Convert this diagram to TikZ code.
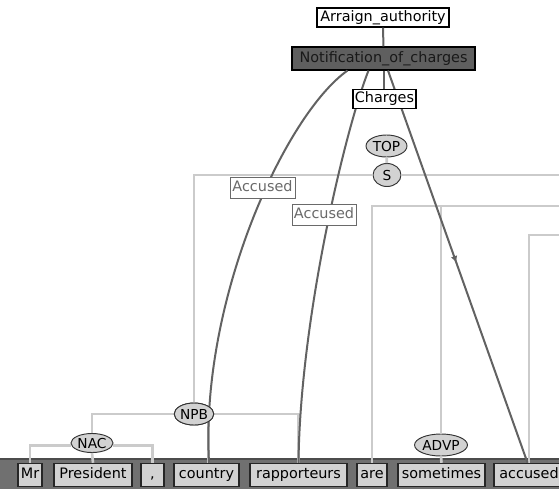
\documentclass[tikz,border=0pt]{standalone}
\usepackage{fontspec}
\setmainfont{DejaVu Sans}
\usetikzlibrary{calc,shapes.geometric,decorations.markings,arrows.meta}
\definecolor{edgedark}{HTML}{626262}
\definecolor{treegrey}{HTML}{CBCBCB}
\definecolor{barfill}{HTML}{707070}
\definecolor{tokfill}{HTML}{D2D2D2}
\definecolor{framefill}{HTML}{5F5F5F}
\definecolor{rolegrey}{HTML}{6A6A6A}
\begin{document}
\begin{tikzpicture}[x=0.75pt,y=-0.75pt,
  font=\fontsize{10.8pt}{12pt}\selectfont,
  every node/.style={text height=8pt,text depth=2.2pt},
  framebox/.style={draw=black,line width=0.8pt,fill=white,inner sep=0pt,minimum height=19*0.75pt},
  darkframe/.style={draw=black,line width=0.8pt,fill=framefill,text=black!90,inner sep=0pt,minimum height=23*0.75pt},
  rolebox/.style={draw=rolegrey,line width=0.7pt,fill=white,text=rolegrey,inner sep=0pt,minimum height=21*0.75pt},
  phrase/.style={ellipse,draw=black!80,line width=0.7pt,fill=tokfill,inner sep=0pt,
    text height=7.5pt,text depth=0pt,font=\fontsize{10.3pt}{11pt}\selectfont},
  token/.style={draw=black!85,line width=1.1pt,fill=tokfill,inner sep=0pt,minimum height=23*0.75pt},
  dk/.style={draw=edgedark,line width=1.5pt},
  gr/.style={draw=treegrey,line width=2pt},
  midarrow/.style={postaction={decorate},decoration={markings,
    mark=at position 0.49 with {\arrow{Latex[length=5pt,width=5pt]}}}}]
\useasboundingbox (0,0) rectangle (559,489);
\clip (0,0) rectangle (559,489);

% word bar
\fill[barfill] (0,459) rectangle (559,489);
\draw[black!70,line width=0.8pt] (0,459) -- (559,459);

% frame nodes
\node[framebox,minimum width=132*0.75pt] (arraign) at (383,17.5) {Arraign\_authority};
\node[darkframe,minimum width=183*0.75pt] (notif) at (383.5,58.5) {Notification\_of\_charges};

% syntax nodes
\node[phrase,minimum width=41*0.75pt,minimum height=22*0.75pt] (top) at (386.5,146) {TOP};
\node[phrase,minimum width=28*0.75pt,minimum height=23*0.75pt] (S) at (387,175) {S};
\node[phrase,minimum width=38*0.75pt,minimum height=22*0.75pt] (npb) at (194,414) {NPB};
\node[phrase,minimum width=42*0.75pt,minimum height=19*0.75pt] (nac) at (92,443) {NAC};
\node[phrase,minimum width=50*0.75pt,minimum height=22*0.75pt] (advp) at (441,445) {ADVP};

% tokens
\node[token,minimum width=24*0.75pt] (mr) at (30,475) {Mr};
\node[token,minimum width=78*0.75pt] (president) at (93,475) {President};
\node[token,minimum width=23*0.75pt] (comma) at (152.5,475) {,};
\node[token,minimum width=65*0.75pt] (country) at (206.5,475) {country};
\node[token,minimum width=97*0.75pt] (rapp) at (298.5,475) {rapporteurs};
\node[token,minimum width=30*0.75pt] (are) at (372,475) {are};
\node[token,minimum width=87*0.75pt] (sometimes) at (441.5,475) {sometimes};
\node[token,minimum width=70*0.75pt] (accused) at (529,475) {accused};

% open ends of tree lines to the right
\coordinate (sR) at (562,175);
\coordinate (vpR) at (562,206);
\coordinate (vpbR) at (562,235);

% tree lines
\draw[gr] (top) -- (S);
\draw[gr] (S.east) -- (sR);
\draw[gr] (S.west) -| (npb.north);
\draw[gr] (vpR) -| (are.north);
\draw[gr] (advp.north |- vpR) -- (advp.north);
\draw[gr] (vpbR) -| (accused.north);
\draw[gr] (nac.north) |- (npb.west);
\draw[gr] (npb.east) -| (rapp.north);
\draw[gr] ([xshift=1.5pt]country.north) -- ([xshift=1.5pt]country.north |- npb);
\draw[gr] (mr.north) |- ([yshift=-2pt]nac.west);
\draw[gr] ([yshift=-2pt]nac.east) -| (comma.north);
\draw[gr] (nac.south) -- (president.north);
\draw[gr] (advp.south) -- (sometimes.north);

% frame element connectors
\draw[dk] (arraign) -- (notif);
\draw[dk] ($(notif.south)+(-36,0)$) .. controls (285,115) and (200,300) .. ($(country.north)+(2.5,0)$);
\draw[dk] ($(notif.south)+(-15,0)$) .. controls (345,130) and (300,320) .. (rapp.north);
\draw[dk,midarrow] ($(notif.south)+(4.5,0)$) -- ($(accused.north)+(-1.5,0)$);
\draw[dk] (notif.south) -- ++(0,20);

% boxes drawn over the connectors
\node[framebox,minimum width=63*0.75pt] (charges) at (384.5,99) {Charges};
\node[rolebox,minimum width=65*0.75pt] (acc1) at (262.5,187.5) {Accused};
\node[rolebox,minimum width=64*0.75pt] (acc2) at (324,214.5) {Accused};
\node[phrase,minimum width=38*0.75pt,minimum height=22*0.75pt] at (npb) {NPB};
\node[token,minimum width=65*0.75pt] at (country) {country};
\node[token,minimum width=97*0.75pt] at (rapp) {rapporteurs};
\node[token,minimum width=70*0.75pt] at (accused) {accused};
\end{tikzpicture}
\end{document}
